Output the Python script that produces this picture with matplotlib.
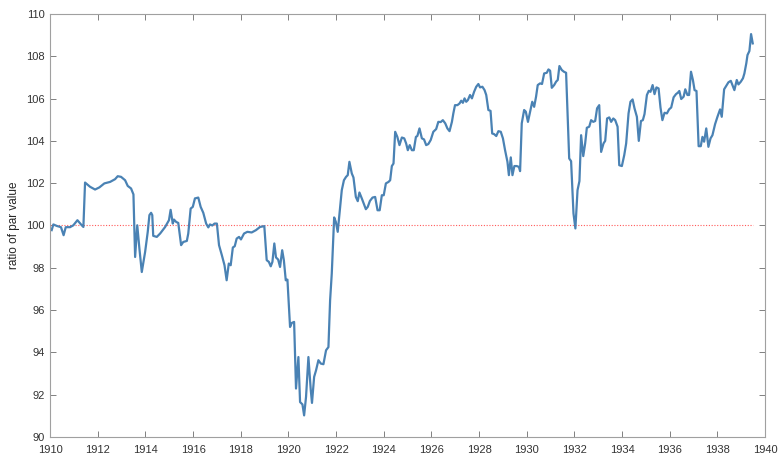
import matplotlib.pyplot as plt

# dates (decimal years) and price as ratio of par
years = [
    1910.07, 1910.14, 1910.28, 1910.46, 1910.57, 1910.66, 1910.84, 1910.98, 1911.15, 1911.30,
    1911.40, 1911.47, 1911.68, 1911.89, 1912.07, 1912.28, 1912.52, 1912.73, 1912.84, 1912.98,
    1913.15, 1913.26, 1913.40, 1913.50, 1913.57, 1913.66, 1913.75, 1913.85, 1913.99, 1914.10,
    1914.17, 1914.24, 1914.29, 1914.33, 1914.48, 1914.62, 1914.83, 1914.99, 1915.06, 1915.15,
    1915.20, 1915.29, 1915.38, 1915.50, 1915.59, 1915.74, 1915.80, 1915.90, 1915.99, 1916.08,
    1916.22, 1916.32, 1916.43, 1916.55, 1916.64, 1916.71, 1916.81, 1916.90, 1917.00, 1917.09,
    1917.21, 1917.32, 1917.41, 1917.50, 1917.58, 1917.67, 1917.75, 1917.83, 1917.93, 1918.01,
    1918.14, 1918.28, 1918.46, 1918.64, 1918.81, 1918.99, 1919.09, 1919.18, 1919.26, 1919.33,
    1919.41, 1919.48, 1919.57, 1919.65, 1919.74, 1919.81, 1919.89, 1919.96, 1920.07, 1920.14,
    1920.24, 1920.32, 1920.42, 1920.49, 1920.59, 1920.66, 1920.74, 1920.84, 1920.94, 1920.99,
    1921.08, 1921.16, 1921.26, 1921.36, 1921.47, 1921.58, 1921.68, 1921.75, 1921.82, 1921.92,
    1921.99, 1922.07, 1922.14, 1922.24, 1922.33, 1922.42, 1922.49, 1922.56, 1922.66, 1922.73,
    1922.83, 1922.91, 1922.98, 1923.08, 1923.16, 1923.25, 1923.33, 1923.42, 1923.53, 1923.64,
    1923.74, 1923.83, 1923.92, 1924.00, 1924.09, 1924.20, 1924.27, 1924.34, 1924.41, 1924.48,
    1924.57, 1924.66, 1924.76, 1924.86, 1924.94, 1925.01, 1925.09, 1925.18, 1925.26, 1925.35,
    1925.41, 1925.50, 1925.60, 1925.69, 1925.78, 1925.87, 1925.97, 1926.08, 1926.20, 1926.29,
    1926.39, 1926.48, 1926.58, 1926.67, 1926.76, 1926.86, 1926.92, 1926.99, 1927.09, 1927.18,
    1927.25, 1927.32, 1927.39, 1927.46, 1927.53, 1927.62, 1927.70, 1927.79, 1927.88, 1927.97,
    1928.04, 1928.14, 1928.23, 1928.30, 1928.39, 1928.48, 1928.55, 1928.63, 1928.72, 1928.81,
    1928.91, 1929.00, 1929.09, 1929.19, 1929.25, 1929.33, 1929.40, 1929.48, 1929.58, 1929.67,
    1929.72, 1929.79, 1929.89, 1929.96, 1930.05, 1930.14, 1930.23, 1930.31, 1930.39, 1930.46,
    1930.56, 1930.64, 1930.73, 1930.84, 1930.91, 1930.98, 1931.05, 1931.15, 1931.23, 1931.30,
    1931.37, 1931.47, 1931.56, 1931.65, 1931.78, 1931.86, 1931.96, 1932.04, 1932.13, 1932.21,
    1932.28, 1932.37, 1932.45, 1932.52, 1932.62, 1932.70, 1932.79, 1932.87, 1932.95, 1933.04,
    1933.12, 1933.22, 1933.29, 1933.37, 1933.46, 1933.54, 1933.63, 1933.71, 1933.81, 1933.88,
    1933.99, 1934.09, 1934.17, 1934.27, 1934.35, 1934.44, 1934.52, 1934.62, 1934.70, 1934.79,
    1934.87, 1934.94, 1935.04, 1935.12, 1935.19, 1935.28, 1935.36, 1935.44, 1935.53, 1935.61,
    1935.69, 1935.78, 1935.88, 1935.97, 1936.06, 1936.16, 1936.26, 1936.34, 1936.40, 1936.48,
    1936.58, 1936.65, 1936.74, 1936.81, 1936.89, 1936.97, 1937.04, 1937.12, 1937.21, 1937.30,
    1937.37, 1937.44, 1937.53, 1937.62, 1937.71, 1937.79, 1937.90, 1938.00, 1938.11, 1938.18,
    1938.28, 1938.36, 1938.46, 1938.56, 1938.63, 1938.71, 1938.81, 1938.88, 1938.98, 1939.07,
    1939.13, 1939.21, 1939.26, 1939.34, 1939.41, 1939.48,
]
ratio = [
    99.78, 100.05, 99.98, 99.92, 99.54, 99.92, 99.92, 100.01, 100.25, 100.05,
    99.93, 102.03, 101.83, 101.70, 101.80, 101.99, 102.06, 102.19, 102.33, 102.30,
    102.14, 101.87, 101.75, 101.47, 98.51, 100.01, 98.91, 97.80, 98.75, 99.70,
    100.49, 100.60, 100.49, 99.51, 99.46, 99.62, 99.93, 100.25, 100.74, 100.09,
    100.28, 100.17, 100.12, 99.07, 99.22, 99.27, 99.62, 100.80, 100.88, 101.28,
    101.32, 100.88, 100.60, 100.09, 99.91, 100.05, 100.00, 100.09, 100.09, 99.07,
    98.59, 98.12, 97.41, 98.20, 98.12, 98.96, 99.02, 99.38, 99.46, 99.34,
    99.62, 99.70, 99.67, 99.78, 99.93, 99.97, 98.36, 98.28, 98.07, 98.28,
    99.15, 98.49, 98.39, 98.04, 98.83, 98.36, 97.41, 97.44, 95.20, 95.39,
    95.44, 92.29, 93.78, 91.65, 91.54, 91.02, 91.89, 93.78, 92.21, 91.61,
    92.84, 93.15, 93.63, 93.47, 93.44, 94.10, 94.25, 96.46, 97.73, 100.38,
    100.17, 99.70, 100.49, 101.67, 102.14, 102.30, 102.38, 103.01, 102.46, 102.27,
    101.35, 101.15, 101.56, 101.28, 101.04, 100.77, 100.88, 101.16, 101.32, 101.35,
    100.72, 100.72, 101.43, 101.43, 101.99, 102.06, 102.14, 102.81, 102.93, 104.43,
    104.19, 103.80, 104.16, 104.12, 103.88, 103.56, 103.80, 103.56, 103.56, 104.19,
    104.23, 104.59, 104.12, 104.07, 103.80, 103.85, 104.04, 104.43, 104.56, 104.90,
    104.89, 104.98, 104.83, 104.59, 104.46, 104.90, 105.30, 105.69, 105.69, 105.77,
    105.90, 105.80, 106.01, 105.85, 105.93, 106.17, 106.01, 106.32, 106.56, 106.69,
    106.53, 106.56, 106.40, 106.17, 105.46, 105.42, 104.35, 104.32, 104.23, 104.46,
    104.43, 104.12, 103.56, 103.01, 102.38, 103.22, 102.38, 102.81, 102.81, 102.77,
    102.57, 104.83, 105.46, 105.38, 104.90, 105.38, 105.85, 105.61, 106.09, 106.64,
    106.72, 106.69, 107.19, 107.22, 107.38, 107.32, 106.51, 106.64, 106.80, 106.88,
    107.54, 107.35, 107.27, 107.22, 103.17, 103.04, 100.57, 99.86, 101.67, 102.10,
    104.27, 103.28, 103.88, 104.62, 104.67, 104.98, 104.90, 104.94, 105.54, 105.69,
    103.48, 103.88, 104.00, 105.06, 105.11, 104.90, 105.06, 104.98, 104.67, 102.85,
    102.81, 103.33, 103.88, 105.30, 105.85, 105.96, 105.54, 105.14, 104.00, 104.94,
    104.98, 105.27, 106.17, 106.37, 106.32, 106.64, 106.21, 106.53, 106.48, 105.58,
    104.98, 105.33, 105.30, 105.49, 105.58, 106.06, 106.21, 106.28, 106.36, 105.98,
    106.09, 106.44, 106.17, 106.17, 107.27, 106.88, 106.40, 106.36, 103.75, 103.75,
    104.19, 103.96, 104.59, 103.72, 104.12, 104.27, 104.79, 105.14, 105.49, 105.14,
    106.44, 106.59, 106.77, 106.84, 106.64, 106.40, 106.88, 106.67, 106.80, 106.96,
    107.19, 107.67, 108.06, 108.25, 109.05, 108.61,
]
par = [100.0, 100.0]
par_years = [1910.0, 1939.48]

xticks = list(range(1910, 1941, 2))
yticks = list(range(90, 111, 2))

plt.rcParams['font.family'] = ['Liberation Sans', 'DejaVu Sans']

fig = plt.figure(figsize=(7.79, 4.59), dpi=100)
ax = fig.add_axes([0.0642, 0.048, 0.918, 0.9215])

ax.plot(par_years, par, color='#ff5a5a', linestyle=(0, (1, 1.5)), linewidth=0.8)
ax.plot(years, ratio, color='#4a82b4', linewidth=1.6)

ax.set_xlim(1910, 1940)
ax.set_ylim(90, 110)
ax.set_xticks(xticks)
ax.set_yticks(yticks)
ax.set_ylabel('ratio of par value', fontsize=8.5, color='#262626', labelpad=4)

for s in ax.spines.values():
    s.set_color('#a0a0a0')
    s.set_linewidth(0.8)
ax.tick_params(direction='in', length=4, width=0.7, color='#808080',
               labelsize=8, labelcolor='#333333', top=True, right=True)
ax.tick_params(axis='x', pad=5.5)
ax.tick_params(axis='y', pad=4)

fig.savefig('out.png', dpi=100)
